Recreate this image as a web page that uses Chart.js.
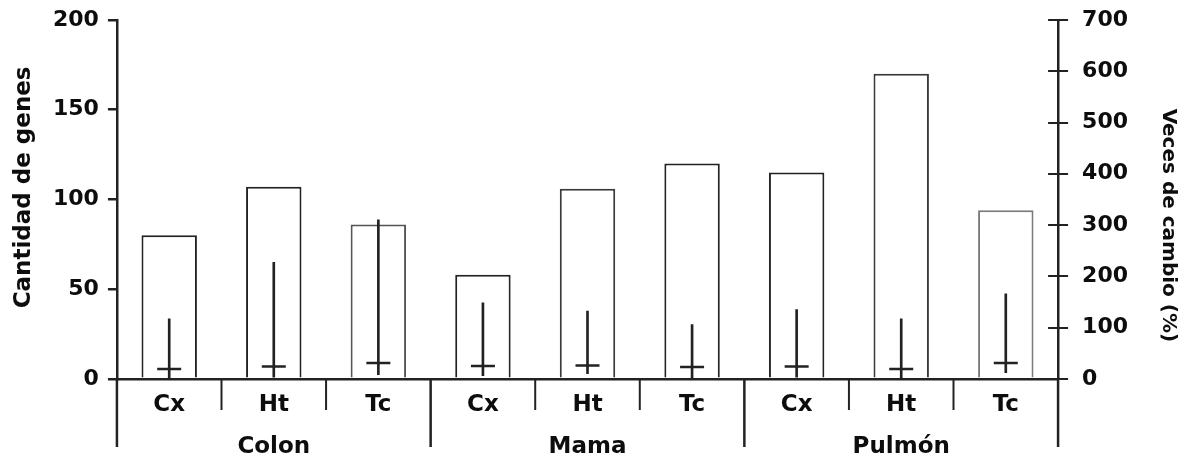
<!DOCTYPE html>
<html lang="es">
<head>
<meta charset="utf-8">
<title>Cantidad de genes y veces de cambio por tejido</title>
<script src="https://cdn.jsdelivr.net/npm/chart.js@4/dist/chart.umd.min.js"></script>
<style>
  html, body { margin: 0; padding: 0; background: #fff; }
  #wrap { width: 1191px; height: 464px; }
</style>
</head>
<body>
<div id="wrap"><canvas id="grafico" width="1191" height="464"></canvas></div>
<script>
// Tejidos (nivel superior del eje X) y líneas celulares de cada tejido
const tejidos = ['Colon', 'Mama', 'Pulmón'];
const lineas = ['Cx', 'Ht', 'Tc'];
const categorias = ['Cx', 'Ht', 'Tc', 'Cx', 'Ht', 'Tc', 'Cx', 'Ht', 'Tc'];

// Barras: cantidad de genes (eje izquierdo)
const cantidadGenes = [80, 107, 86, 58, 106, 120, 115, 170, 94];

// Veces de cambio (%) (eje derecho): mínimo, máximo y mediana
const cambioMin = [0, 3, 8, 6, 10, 2, 3, 0, 12];
const cambioMax = [117, 227, 310, 148, 132, 106, 135, 117, 166];
const cambioMediana = [19, 24, 31, 25, 26, 23, 24, 19, 31];

// Marcas de los ejes
const ticksGenes = [0, 50, 100, 150, 200];
const ticksCambio = [0, 100, 200, 300, 400, 500, 600, 700];

// Títulos de los ejes
const tituloIzq = 'Cantidad de genes';
const tituloDer = 'Veces de cambio (%)';

const TINTA = '#222';
const TEXTO = '#0d0d0d';
const FUENTE = 'DejaVu Sans';
const bordeBarras = [TINTA, TINTA, '#555', TINTA, '#3a3a3a', TINTA, TINTA, '#3a3a3a', '#7a7a7a'];

// Separadores del eje X (cortos entre líneas celulares, largos entre tejidos),
// marcas cruzadas del eje derecho y títulos verticales de ambos ejes
const ejesExtra = {
  id: 'ejesExtra',
  afterDraw(chart) {
    const ctx = chart.ctx;
    const xs = chart.scales.x;
    const ys = chart.scales.y;
    const y1 = chart.scales.y1;
    const area = chart.chartArea;
    const base = area.bottom;
    const n = categorias.length;
    ctx.save();
    ctx.strokeStyle = TINTA;
    for (let k = 0; k <= n; k++) {
      let px;
      if (k === 0) px = xs.left;
      else if (k === n) px = xs.right;
      else px = (xs.getPixelForValue(k - 1) + xs.getPixelForValue(k)) / 2;
      const grupo = k % lineas.length === 0;
      ctx.lineWidth = grupo ? 2.5 : 2;
      ctx.beginPath();
      ctx.moveTo(px, base);
      ctx.lineTo(px, grupo ? 447 : 410);
      ctx.stroke();
    }
    ctx.lineWidth = 2;
    y1.ticks.forEach(t => {
      const y = Math.round(y1.getPixelForValue(t.value));
      ctx.beginPath();
      ctx.moveTo(y1.left - 10, y);
      ctx.lineTo(y1.left + 10, y);
      ctx.stroke();
    });

    ctx.fillStyle = TEXTO;
    ctx.textAlign = 'center';
    ctx.textBaseline = 'middle';
    const medio = (area.top + area.bottom) / 2;

    ctx.save();
    ctx.font = 'bold 23px "' + FUENTE + '"';
    ctx.translate(ys.left - 20, medio - 12);
    ctx.rotate(-Math.PI / 2);
    ctx.fillText(tituloIzq, 0, 0);
    ctx.restore();

    ctx.save();
    ctx.font = 'bold 20px "' + FUENTE + '"';
    ctx.translate(y1.right + 33, medio + 26);
    ctx.rotate(Math.PI / 2);
    ctx.fillText(tituloDer, 0, 0);
    ctx.restore();

    ctx.restore();
  }
};

new Chart(document.getElementById('grafico'), {
  data: {
    labels: categorias,
    datasets: [
      {
        type: 'line',
        label: 'Mediana',
        yAxisID: 'y1',
        data: cambioMediana,
        showLine: false,
        pointStyle: 'line',
        pointRadius: 12,
        pointHoverRadius: 12,
        borderColor: TINTA,
        pointBorderColor: TINTA,
        borderWidth: 2.5,
        pointBorderWidth: 2.5,
        order: 1
      },
      {
        type: 'bar',
        label: 'Rango',
        yAxisID: 'y1',
        data: cambioMin.map((v, i) => [v, cambioMax[i]]),
        backgroundColor: TINTA,
        borderWidth: 0,
        barThickness: 2,
        grouped: false,
        order: 2
      },
      {
        type: 'bar',
        label: 'Cantidad de genes',
        yAxisID: 'y',
        data: cantidadGenes,
        backgroundColor: '#fff',
        borderColor: bordeBarras,
        borderWidth: 2,
        barPercentage: 0.53,
        categoryPercentage: 1,
        grouped: false,
        order: 3
      }
    ]
  },
  options: {
    responsive: false,
    animation: false,
    devicePixelRatio: 1,
    layout: { padding: { left: 44, right: 56, top: 20, bottom: 0 } },
    plugins: { legend: { display: false }, tooltip: { enabled: false } },
    scales: {
      x: {
        type: 'category',
        offset: true,
        grid: { display: false, drawTicks: false },
        border: { display: true, color: TINTA, width: 2.5 },
        ticks: { color: TEXTO, padding: 12, font: { family: FUENTE, size: 23, weight: 'bold' } }
      },
      x2: {
        type: 'category',
        position: 'bottom',
        labels: tejidos,
        offset: true,
        grid: { display: false, drawTicks: false },
        border: { display: false },
        ticks: { color: TEXTO, padding: 3, font: { family: FUENTE, size: 23, weight: 'bold' } }
      },
      y: {
        position: 'left',
        min: ticksGenes[0],
        max: ticksGenes[ticksGenes.length - 1],
        afterBuildTicks: s => { s.ticks = ticksGenes.map(v => ({ value: v })); },
        grid: { drawOnChartArea: false, tickLength: 9, color: TINTA, lineWidth: 2.5 },
        border: { display: true, color: TINTA, width: 2.5 },
        ticks: { color: TEXTO, padding: 9, font: { family: FUENTE, size: 22, weight: 'bold', lineHeight: 1 } },
        title: { display: false }
      },
      y1: {
        position: 'right',
        min: ticksCambio[0],
        max: ticksCambio[ticksCambio.length - 1],
        afterBuildTicks: s => { s.ticks = ticksCambio.map(v => ({ value: v })); },
        grid: { drawOnChartArea: false, tickLength: 17, tickColor: 'rgba(0,0,0,0)' },
        border: { display: true, color: TINTA, width: 2.5 },
        ticks: { color: TEXTO, padding: 7, font: { family: FUENTE, size: 22, weight: 'bold', lineHeight: 1 } },
        title: { display: false }
      }
    }
  },
  plugins: [ejesExtra]
});
</script>
</body>
</html>
